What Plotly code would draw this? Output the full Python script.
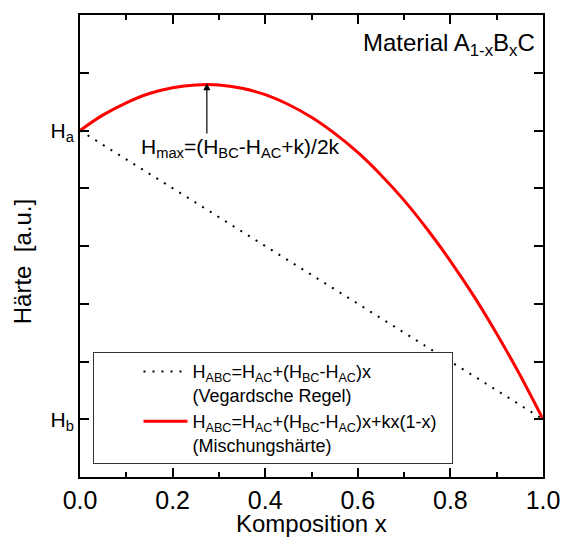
import plotly.graph_objects as go

# Data
comp_x = [0.0, 0.05, 0.10, 0.15, 0.20, 0.25, 0.30, 0.35, 0.40, 0.45, 0.50,
          0.55, 0.60, 0.65, 0.70, 0.75, 0.80, 0.85, 0.90, 0.95, 1.0]
mix_hardness = [6.00, 6.27, 6.48, 6.64, 6.74, 6.79, 6.79, 6.73, 6.62, 6.45, 6.23,
                5.95, 5.62, 5.23, 4.79, 4.29, 3.74, 3.14, 2.48, 1.77, 1.00]
vegard_x = [0.0, 1.0]
vegard_hardness = [6.0, 1.0]
hmax_x = 0.274
hmax_y = 6.82
hmax_tail_y = 5.92
hmax_text_x = 0.128
hmax_text_y = 5.96

ytick_vals = [0, 1, 2, 3, 4, 5, 6, 7, 8]
ytick_text = ["", "H<sub>b</sub>", "", "", "", "", "H<sub>a</sub>", "", ""]
xtick_vals = [0, 0.2, 0.4, 0.6, 0.8, 1.0]

FONT = "Liberation Sans, Arial, sans-serif"

fig = go.Figure()
fig.add_trace(go.Scatter(
    x=vegard_x, y=vegard_hardness, mode="lines",
    line=dict(color="black", width=2, dash="2px,7px"),
    name="H<sub>ABC</sub>=H<sub>AC</sub>+(H<sub>BC</sub>-H<sub>AC</sub>)x<br>(Vegardsche Regel)",
))
fig.add_trace(go.Scatter(
    x=comp_x, y=mix_hardness, mode="lines", line_shape="spline",
    line=dict(color="#ff0000", width=3),
    name="H<sub>ABC</sub>=H<sub>AC</sub>+(H<sub>BC</sub>-H<sub>AC</sub>)x+kx(1-x)&nbsp;&nbsp;<br>(Mischungshärte)",
))

axis_common = dict(
    showline=True, linecolor="black", linewidth=2, mirror="ticks",
    ticks="inside", tickcolor="black", tickwidth=1.5,
    showgrid=False, zeroline=False, automargin=False,
)

fig.update_xaxes(
    range=[0, 1], tickvals=xtick_vals, tickformat=".1f",
    ticklen=9, tickfont=dict(size=25, family=FONT, color="black"),
    minor=dict(dtick=0.1, ticks="inside", ticklen=5, tickcolor="black", tickwidth=1.5),
    **axis_common,
)
fig.update_yaxes(
    range=[0, 8], tickvals=ytick_vals, ticktext=ytick_text,
    ticklen=9, tickfont=dict(size=21, family=FONT, color="black"),
    **axis_common,
)

fig.add_annotation(
    x=hmax_x, y=hmax_y, ax=hmax_x, ay=hmax_tail_y, xref="x", yref="y",
    axref="x", ayref="y", text="", showarrow=True,
    arrowhead=2, arrowsize=1.2, arrowwidth=1.2, arrowcolor="black",
)
fig.add_annotation(
    x=hmax_text_x, y=hmax_text_y, xref="x", yref="y", xanchor="left", yanchor="top",
    text="H<sub>max</sub>=(H<sub>BC</sub>-H<sub>AC</sub>+k)/2k", showarrow=False,
    font=dict(size=21, family=FONT, color="black"),
)
fig.add_annotation(
    x=0.988, y=0.973, xref="paper", yref="paper", xanchor="right", yanchor="top",
    text="Material A<sub>1-x</sub>B<sub>x</sub>C", showarrow=False,
    font=dict(size=24, family=FONT, color="black"),
)
fig.add_annotation(
    x=0.5, y=-0.067, xref="paper", yref="paper", xanchor="center", yanchor="top",
    text="Komposition x", showarrow=False,
    font=dict(size=24, family=FONT, color="black"),
)
fig.add_annotation(
    x=-0.125, y=0.465, xref="paper", yref="paper", xanchor="center", yanchor="middle",
    text="Härte  [a.u.]", textangle=-90, showarrow=False,
    font=dict(size=24, family=FONT, color="black"),
)

fig.update_layout(
    width=562, height=538,
    margin=dict(l=80, r=19, t=15, b=61),
    paper_bgcolor="white", plot_bgcolor="white",
    font=dict(family=FONT, color="black"),
    showlegend=True,
    legend=dict(
        x=0.027, y=0.27, xanchor="left", yanchor="top",
        bgcolor="white", bordercolor="#333333", borderwidth=1,
        font=dict(size=18, family=FONT, color="black"),
        valign="top", indentation=45, itemwidth=44, tracegroupgap=2,
    ),
)

fig.write_html("out.html", config={"displayModeBar": False},
               post_script="document.body.style.margin='0';")
